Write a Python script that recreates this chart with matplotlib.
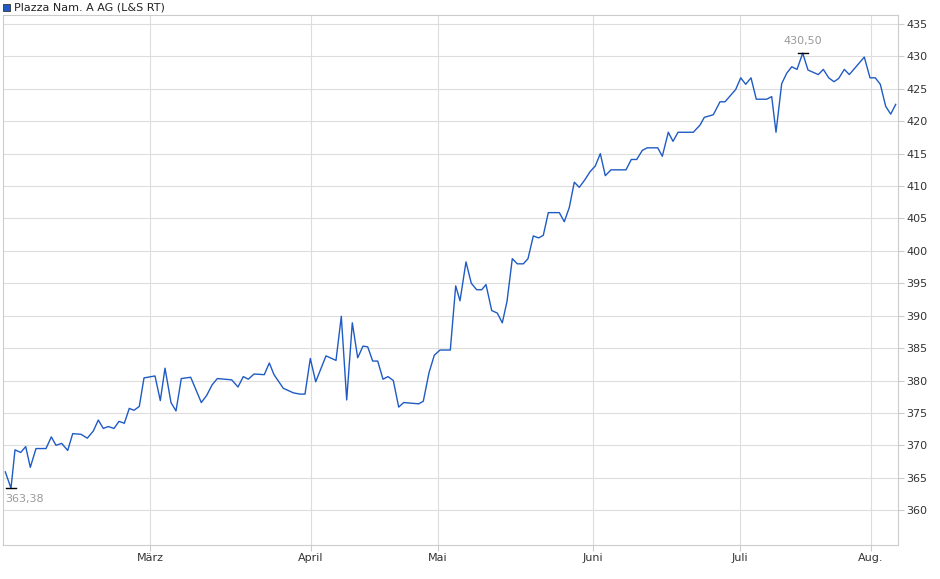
import matplotlib
matplotlib.use("Agg")
import matplotlib.pyplot as plt

t = [5.3,11,15,20.7,25.7,30.3,36,46,51.3,56,61.7,67.7,72.7,81,87.3,93.3,98.3,103.3,108.3,114,119,124.3,129.3,134,139.3,144,155,160.3,165,171,176,181.3,190.7,201.3,206.7,212,217.3,231.7,238,243.3,248.3,254,264.3,269.3,274,283.3,293.3,
     300,305,310.3,315.7,326,336,341.3,346.7,352.3,357.7,363,367.7,372.7,377.7,383,388,393.3,398.7,403.7,418.7,423.3,429,434.3,440,450.3,455.7,460,466,471.3,476.7,481.7,486,491.7,497.3,502.3,507,512.3,517.3,523.3,528,533.3,538.7,543.3,548.3,559.3,564.3,569.3,574.3,579.3,585,
     590,595.3,600.3,605.3,611,626,631.3,636.7,642.3,647.3,657.7,662.3,668.3,673,678,693.3,700,704.3,713.3,720,725,735.7,740.7,745.7,751,756.3,766.7,771.7,776,781.7,786.7,791.7,797,802.7,808,818.3,823.3,828.7,834,838.7,844.3,849.3,864.3,870,875.3,880.3,885.7,890.7,895.7]
price = [365.9,363.38,369.3,368.9,369.8,366.6,369.5,369.5,371.3,370.0,370.3,369.2,371.8,371.7,371.1,372.2,373.9,372.6,372.9,372.6,373.7,373.4,375.7,375.4,376.0,380.4,380.7,376.9,381.9,376.6,375.3,380.3,380.5,376.6,377.7,379.3,380.3,380.1,379.0,380.6,380.2,381.0,380.9,382.7,380.9,378.8,378.1,
         377.9,377.9,383.4,379.8,383.8,383.1,389.9,377.0,388.9,383.5,385.3,385.2,383.0,383.0,380.2,380.6,380.0,375.9,376.6,376.4,376.8,381.2,383.9,384.7,384.7,394.6,392.3,398.3,395.0,394.0,394.0,394.8,390.8,390.4,388.9,392.2,398.8,398.0,398.0,398.8,402.3,402.0,402.4,405.9,405.9,404.5,406.7,410.6,409.8,411.0,
         412.2,413.1,415.0,411.6,412.5,412.5,414.1,414.1,415.5,415.9,415.9,414.6,418.3,416.9,418.3,418.3,419.4,420.6,421.0,423.0,423.0,424.9,426.7,425.7,426.7,423.4,423.4,423.8,418.3,425.8,427.4,428.4,428.0,430.5,427.9,427.2,428.0,426.7,426.1,426.6,428.0,427.2,429.9,426.7,426.7,425.7,422.3,421.1,422.6]
month_pos = [150, 311, 438, 593, 740, 871]
month_labels = ["März", "April", "Mai", "Juni", "Juli", "Aug."]
yticks = list(range(360, 436, 5))

W, H = 940, 579
fig = plt.figure(figsize=(W/100, H/100), dpi=100)
ax = fig.add_axes([3/W, 1-545/H, 895/W, 530/H])
ax.plot(t, price, color="#1f5bc4", lw=1.0)
ax.set_xlim(3, 898)
ax.set_ylim(360 - 35/6.506, 360 + 497/6.506)
ax.yaxis.tick_right()
ax.set_yticks(yticks)
ax.set_xticks(month_pos)
ax.set_xticklabels(month_labels)
ax.tick_params(axis="both", length=4, color="#cccccc", labelsize=8, labelcolor="#333333", pad=2)
ax.grid(True, color="#dddddd", lw=0.8)
for s in ax.spines.values():
    s.set_color("#cccccc")

imin = price.index(min(price)); imax = price.index(max(price))
for i, off, va, ha, dx in [(imin, -4, "top", "left", -4), (imax, 5, "bottom", "center", 0)]:
    ax.plot([t[i]-5, t[i]+5], [price[i], price[i]], color="black", lw=1)
    ax.annotate(f"{price[i]:.2f}".replace(".", ","), (t[i], price[i]), xytext=(dx, off),
                textcoords="offset points", ha=ha, va=va, fontsize=8, color="#999999")

fig.patches.append(matplotlib.patches.Rectangle((3/W, 1-11/H), 7/W, 7/H, transform=fig.transFigure,
                   facecolor="#1f5bc4", edgecolor="#333333", lw=0.6))
fig.text(14/W, 1-7.5/H, "Plazza Nam. A AG (L&S RT)", fontsize=8, va="center", color="#222222")
fig.savefig("out.png", dpi=100)
